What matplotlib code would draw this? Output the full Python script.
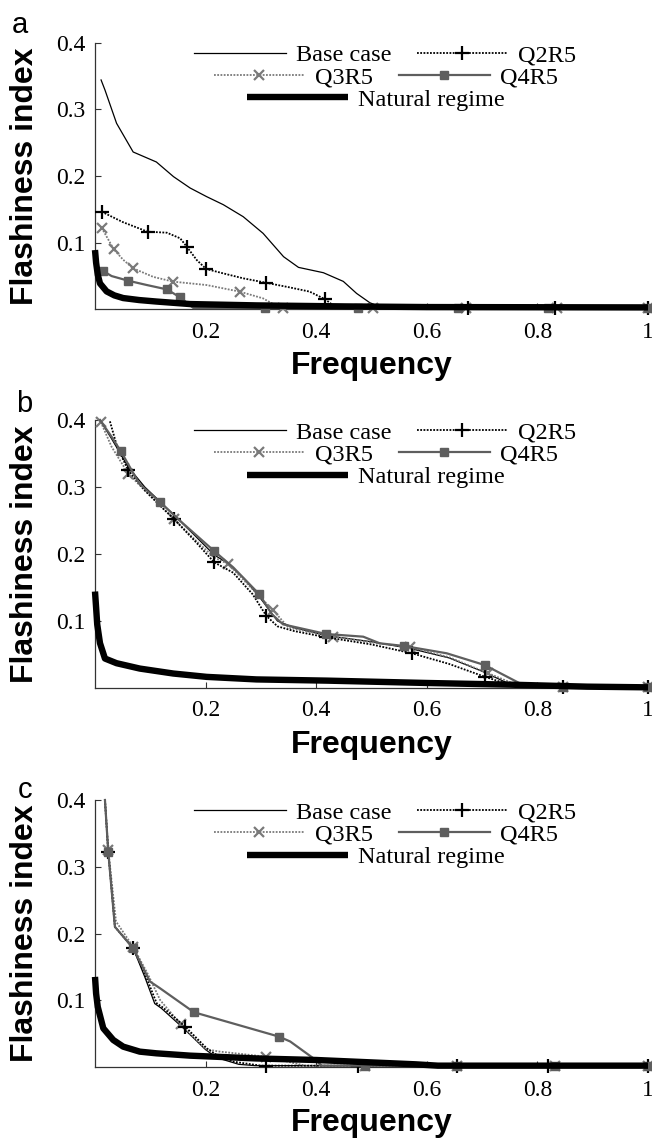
import matplotlib
matplotlib.use("Agg")
import matplotlib.pyplot as plt
from matplotlib.lines import Line2D

# Flashiness index vs frequency, three panels (a, b, c)

panel_letters = ["a", "b", "c"]
x_ticks = [0.2, 0.4, 0.6, 0.8, 1.0]
x_tick_labels = ["0.2", "0.4", "0.6", "0.8", "1"]
y_ticks = [0.1, 0.2, 0.3, 0.4]
y_tick_labels = ["0.1", "0.2", "0.3", "0.4"]

# ---- panel a ----
base_a_x = [0.011, 0.018, 0.039, 0.069, 0.111, 0.142, 0.172, 0.202, 0.232, 0.268, 0.304, 0.341, 0.368, 0.413, 0.449, 0.473, 0.497, 0.518, 1.0]
base_a_y = [0.344, 0.329, 0.279, 0.236, 0.221, 0.199, 0.182, 0.169, 0.157, 0.139, 0.114, 0.079, 0.063, 0.055, 0.042, 0.024, 0.010, 0.003, 0.002]
q2_a_x = [0.012, 0.05, 0.095, 0.13, 0.154, 0.166, 0.184, 0.201, 0.232, 0.268, 0.309, 0.352, 0.388, 0.4165, 0.437, 0.5, 0.675, 0.832, 1.0]
q2_a_y = [0.1465, 0.131, 0.1165, 0.115, 0.1066, 0.094, 0.074, 0.0606, 0.054, 0.0466, 0.040, 0.033, 0.0267, 0.015, 0.002, 0.002, 0.002, 0.002, 0.002]
q2_a_marks = [0, 2, 5, 7, 10, 13, 16, 17, 18]
q3_a_x = [0.012, 0.034, 0.051, 0.069, 0.1055, 0.1416, 0.202, 0.262, 0.304, 0.3285, 0.34, 0.502, 0.67, 0.835, 1.0]
q3_a_y = [0.1225, 0.090, 0.0744, 0.0616, 0.0487, 0.0416, 0.0365, 0.0266, 0.0165, 0.005, 0.002, 0.002, 0.002, 0.002, 0.002]
q3_a_marks = [0, 1, 3, 5, 7, 10, 11, 12, 13, 14]
q4_a_x = [0.0139, 0.03, 0.060, 0.0934, 0.13, 0.154, 0.178, 0.307, 0.475, 0.656, 0.82, 1.0]
q4_a_y = [0.058, 0.050, 0.043, 0.0366, 0.030, 0.018, 0.002, 0.002, 0.002, 0.002, 0.002, 0.002]
q4_a_marks = [0, 2, 4, 5, 7, 8, 9, 10, 11]
nat_a_x = [0.0, 0.002, 0.005, 0.009, 0.021, 0.035, 0.051, 0.08, 0.111, 0.172, 0.292, 0.45, 0.6, 1.0]
nat_a_y = [0.089, 0.070, 0.052, 0.039, 0.027, 0.021, 0.017, 0.014, 0.0118, 0.008, 0.006, 0.0045, 0.0035, 0.003]

# ---- panel b ----
base_b_x = [0.009, 0.03, 0.06, 0.09, 0.118, 0.143, 0.18, 0.215, 0.24, 0.27, 0.30, 0.33, 0.36, 0.42, 0.5, 0.57, 0.64, 0.70, 0.76, 1.0]
base_b_y = [0.400, 0.372, 0.330, 0.300, 0.278, 0.258, 0.228, 0.199, 0.186, 0.163, 0.133, 0.100, 0.090, 0.078, 0.069, 0.059, 0.045, 0.025, 0.002, 0.002]
q2_b_x = [0.027, 0.04, 0.06, 0.09, 0.118, 0.143, 0.18, 0.2155, 0.25, 0.285, 0.31, 0.33, 0.36, 0.418, 0.5, 0.573, 0.64, 0.7045, 0.76, 0.846, 1.0]
q2_b_y = [0.398, 0.360, 0.325, 0.295, 0.272, 0.252, 0.220, 0.1876, 0.172, 0.140, 0.1075, 0.092, 0.085, 0.0757, 0.065, 0.0518, 0.036, 0.0169, 0.002, 0.002, 0.002]
q2_b_marks = [2, 5, 7, 10, 13, 15, 17, 19, 20]
q3_b_x = [0.0105, 0.03, 0.06, 0.09, 0.118, 0.143, 0.18, 0.215, 0.241, 0.27, 0.3217, 0.35, 0.431, 0.5, 0.57, 0.64, 0.711, 0.77, 0.846, 1.0]
q3_b_y = [0.397, 0.360, 0.320, 0.295, 0.272, 0.252, 0.222, 0.195, 0.185, 0.160, 0.1164, 0.090, 0.0766, 0.068, 0.0607, 0.046, 0.022, 0.002, 0.002, 0.002]
q3_b_marks = [0, 2, 5, 8, 10, 12, 14, 16, 18, 19]
q4_b_x = [0.009, 0.03, 0.047, 0.08, 0.118, 0.16, 0.2147, 0.25, 0.297, 0.32, 0.34, 0.418, 0.485, 0.515, 0.559, 0.636, 0.7045, 0.7625, 0.78, 0.846, 1.0]
q4_b_y = [0.400, 0.375, 0.353, 0.305, 0.277, 0.245, 0.205, 0.180, 0.140, 0.110, 0.095, 0.0806, 0.0766, 0.0667, 0.0627, 0.0518, 0.0343, 0.0094, 0.002, 0.002, 0.002]
q4_b_marks = [2, 4, 6, 8, 11, 14, 16, 19, 20]
nat_b_x = [0.0, 0.002, 0.004, 0.009, 0.018, 0.039, 0.081, 0.1416, 0.202, 0.292, 0.42, 0.6, 0.75, 0.89, 1.0]
nat_b_y = [0.144, 0.120, 0.095, 0.067, 0.044, 0.037, 0.029, 0.0216, 0.0166, 0.0128, 0.011, 0.0075, 0.005, 0.002, 0.001]

# ---- panel c ----
base_c_x = [0.018, 0.024, 0.036, 0.069, 0.09, 0.108, 0.12, 0.16, 0.2, 0.22, 0.26, 0.29, 1.0]
base_c_y = [0.400, 0.322, 0.210, 0.178, 0.135, 0.095, 0.088, 0.058, 0.026, 0.014, 0.004, 0.002, 0.002]
q2_c_x = [0.018, 0.024, 0.036, 0.069, 0.09, 0.1115, 0.123, 0.163, 0.202, 0.22, 0.25, 0.30, 0.309, 0.476, 0.655, 0.82, 1.0]
q2_c_y = [0.400, 0.322, 0.210, 0.178, 0.140, 0.0955, 0.089, 0.0605, 0.028, 0.018, 0.008, 0.002, 0.002, 0.002, 0.002, 0.002, 0.002]
q2_c_marks = [1, 3, 7, 12, 13, 14, 15, 16]
q3_c_x = [0.018, 0.024, 0.038, 0.069, 0.095, 0.118, 0.155, 0.199, 0.223, 0.309, 0.38, 0.488, 0.655, 0.832, 1.0]
q3_c_y = [0.400, 0.325, 0.218, 0.180, 0.140, 0.100, 0.064, 0.027, 0.0233, 0.0155, 0.002, 0.002, 0.002, 0.002, 0.002]
q3_c_marks = [1, 3, 6, 9, 11, 12, 13, 14]
q4_c_x = [0.018, 0.024, 0.036, 0.069, 0.0995, 0.1175, 0.179, 0.3327, 0.353, 0.395, 0.41, 0.488, 0.655, 0.832, 1.0]
q4_c_y = [0.400, 0.322, 0.210, 0.178, 0.128, 0.118, 0.082, 0.0455, 0.0382, 0.013, 0.002, 0.002, 0.002, 0.002, 0.002]
q4_c_marks = [1, 3, 6, 7, 11, 12, 13, 14]
nat_c_x = [0.0, 0.002, 0.005, 0.015, 0.033, 0.051, 0.081, 0.111, 0.172, 0.292, 0.40, 0.58, 0.62, 1.0]
nat_c_y = [0.135, 0.110, 0.090, 0.058, 0.0405, 0.0305, 0.023, 0.0205, 0.017, 0.0128, 0.0105, 0.004, 0.002, 0.002]

panels = [
    (base_a_x, base_a_y, q2_a_x, q2_a_y, q2_a_marks, q3_a_x, q3_a_y, q3_a_marks, q4_a_x, q4_a_y, q4_a_marks, nat_a_x, nat_a_y),
    (base_b_x, base_b_y, q2_b_x, q2_b_y, q2_b_marks, q3_b_x, q3_b_y, q3_b_marks, q4_b_x, q4_b_y, q4_b_marks, nat_b_x, nat_b_y),
    (base_c_x, base_c_y, q2_c_x, q2_c_y, q2_c_marks, q3_c_x, q3_c_y, q3_c_marks, q4_c_x, q4_c_y, q4_c_marks, nat_c_x, nat_c_y),
]

serif = "Liberation Serif"
sans = "Liberation Sans"
grey_dot = "#7a7a7a"
grey_sq = "#5e5e5e"

# styles
st_base = dict(color="black", lw=0.9, ls="-")
st_q2 = dict(color="black", lw=1.3, ls=(0, (1, 0.8)), marker="+", ms=10, mew=1.6)
st_q3 = dict(color=grey_dot, lw=1.3, ls=(0, (1, 0.8)), marker="x", ms=7, mew=1.6)
st_q4 = dict(color=grey_sq, lw=1.6, ls="-", marker="s", ms=6, mfc=grey_sq, mec=grey_sq)
st_nat = dict(color="black", lw=4.6, ls="-", solid_capstyle="butt")

fig = plt.figure(figsize=(6.52, 11.41), dpi=100)
W, H = 652.0, 1141.0
ax_left = 95 / W
ax_w = 553 / W
tops = [42.6, 420.0, 800.0]
bottoms = [309.4, 688.0, 1067.0]
letter_pos = [(20, 25), (24, 404), (25, 790)]

for i, p in enumerate(panels):
    (bx, by, q2x, q2y, q2m, q3x, q3y, q3m, q4x, q4y, q4m, nx, ny) = p
    ax = fig.add_axes([ax_left, 1 - bottoms[i] / H, ax_w, (bottoms[i] - tops[i]) / H])

    ax.plot(bx, by, clip_on=False, zorder=3, **st_base)
    ax.plot(q3x, q3y, markevery=q3m, clip_on=False, zorder=3, **st_q3)
    ax.plot(q2x, q2y, markevery=q2m, clip_on=False, zorder=3, **st_q2)
    ax.plot(q4x, q4y, markevery=q4m, clip_on=False, zorder=3, **st_q4)
    ax.plot(nx, ny, clip_on=False, zorder=4, **st_nat)

    ax.set_xlim(0, 1)
    ax.set_ylim(0, 0.4)
    ax.set_xticks(x_ticks)
    ax.set_xticklabels(x_tick_labels, fontfamily=serif, fontsize=17)
    ax.set_yticks(y_ticks)
    ax.set_yticklabels(y_tick_labels, fontfamily=serif, fontsize=17)
    ax.tick_params(axis="x", direction="in", length=4, width=0.8, pad=9, color="#333333")
    ax.tick_params(axis="y", direction="in", length=4, width=0.8, pad=7, color="#333333")
    for s in ["top", "right"]:
        ax.spines[s].set_visible(False)
    for s in ["left", "bottom"]:
        ax.spines[s].set_color("#333333")
        ax.spines[s].set_linewidth(0.9)

    ax.set_xlabel("Frequency", fontfamily=sans, fontweight="bold", fontsize=23)
    ax.xaxis.set_label_coords(0.5, -0.155)
    ax.set_ylabel("Flashiness index", fontfamily=sans, fontweight="bold", fontsize=23)
    ax.yaxis.set_label_coords(-(95 - 40) / 553, 0.5)

    fig.text(letter_pos[i][0] / W, 1 - letter_pos[i][1] / H, panel_letters[i],
             fontfamily=sans, fontsize=21, ha="center", va="center")

    # legend, three centred rows
    h_base = Line2D([], [], **st_base)
    h_q2 = Line2D([], [], **st_q2)
    h_q3 = Line2D([], [], **st_q3)
    h_q4 = Line2D([], [], **st_q4)
    h_nat = Line2D([], [], **st_nat)
    lprops = dict(prop={"family": serif, "size": 17.5}, frameon=False, loc="center",
                  handletextpad=0.42, columnspacing=1.05, borderpad=0, borderaxespad=0)
    leg1 = ax.legend([h_base, h_q2], ["Base case", "Q2R5"], ncol=2, handlelength=3.75,
                     bbox_to_anchor=(0.525, 0.953), **lprops)
    ax.add_artist(leg1)
    leg2 = ax.legend([h_q3, h_q4], ["Q3R5", "Q4R5"], ncol=2, handlelength=3.75,
                     bbox_to_anchor=(0.526, 0.871), **lprops)
    ax.add_artist(leg2)
    ax.legend([h_nat], ["Natural regime"], ncol=1, handlelength=4.15,
              bbox_to_anchor=(0.508, 0.786), **lprops)

fig.savefig("out.png", dpi=100)
